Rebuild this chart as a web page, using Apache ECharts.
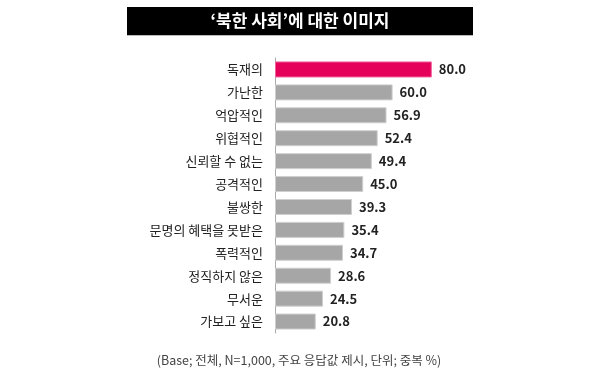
<!DOCTYPE html>
<html>
<head>
<meta charset="utf-8">
<script src="https://cdn.jsdelivr.net/npm/echarts@6/dist/echarts.min.js"></script>
<style>html,body{margin:0;padding:0;background:#fff;}#c{width:600px;height:379px;}</style>
</head>
<body>
<div id="c"></div>
<script>
const categories = ['독재의','가난한','억압적인','위협적인','신뢰할 수 없는','공격적인','불쌍한','문명의 혜택을 못받은','폭력적인','정직하지 않은','무서운','가보고 싶은'];
const values = [80.0, 60.0, 56.9, 52.4, 49.4, 45.0, 39.3, 35.4, 34.7, 28.6, 24.5, 20.8];
const titleText = '‘북한 사회’에 대한 이미지';
const noteText = '(Base; 전체, N=1,000, 주요 응답값 제시, 단위; 중복 %)';

const chart = echarts.init(document.getElementById('c'), null, {renderer:'canvas'});
const font = '"Noto Sans CJK KR", "Noto Sans", sans-serif';
chart.setOption({
  animation: false,
  backgroundColor: '#fff',
  graphic: [
    {type:'rect', shape:{x:127, y:7, width:346, height:28}, style:{fill:'#000'}},
    {type:'rect', shape:{x:127, y:35, width:346, height:1}, style:{fill:'#bbb'}},
    {type:'text', x:300, y:21, style:{text:titleText, fill:'#fff', font:'bold 17px ' + font, align:'center', verticalAlign:'middle'}},
    {type:'text', x:299, y:360, style:{text:noteText, fill:'#444', font:'12.5px ' + font, align:'center', verticalAlign:'middle'}}
  ],
  grid: {left:275, top:58, width:196, height:275, containLabel:false},
  xAxis: {type:'value', min:0, max:100, show:false},
  yAxis: {
    type:'category', data:categories, inverse:true,
    axisLine:{show:true, lineStyle:{color:'#aaa', width:1}},
    axisTick:{show:false},
    axisLabel:{margin:12, color:'#222', fontSize:13, fontFamily:font}
  },
  series: [{
    type:'bar', barWidth:16,
    data: values.map((v,i)=>({value:v, itemStyle:{color: i===0 ? '#e5005a' : '#a6a6a6', borderColor: i===0 ? '#f0609a' : '#cfcfcf', borderWidth:1}})),
    label:{show:true, position:'right', distance:7, color:'#222', fontSize:13, fontWeight:'bold', fontFamily:font,
      formatter: p => p.value.toFixed(1)}
  }]
});
</script>
</body>
</html>
